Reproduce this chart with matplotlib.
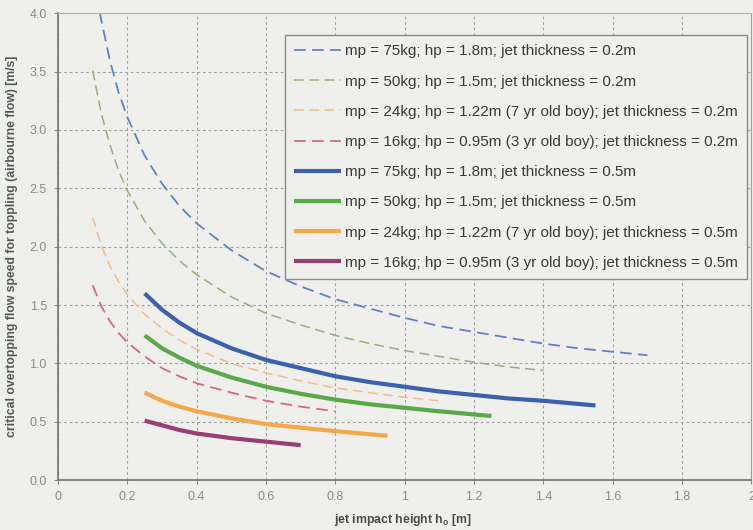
import numpy as np
import matplotlib.pyplot as plt

plt.rcParams['font.family'] = ['Liberation Sans', 'DejaVu Sans']

# jet thickness = 0.2m (dashed)
h_75_thin = [0.12, 0.15, 0.175, 0.2, 0.25, 0.3, 0.35, 0.4, 0.5, 0.6, 0.7, 0.8, 0.9, 1.0, 1.1, 1.2, 1.3, 1.4, 1.5, 1.6, 1.7]
v_75_thin = [4.01, 3.59, 3.32, 3.11, 2.78, 2.54, 2.35, 2.20, 1.97, 1.79, 1.66, 1.55, 1.47, 1.39, 1.32, 1.27, 1.22, 1.17, 1.13, 1.10, 1.07]

h_50_thin = [0.1, 0.125, 0.15, 0.175, 0.2, 0.25, 0.3, 0.35, 0.4, 0.5, 0.6, 0.7, 0.8, 0.9, 1.0, 1.1, 1.2, 1.3, 1.4]
v_50_thin = [3.51, 3.14, 2.87, 2.65, 2.48, 2.22, 2.03, 1.88, 1.76, 1.57, 1.43, 1.33, 1.24, 1.17, 1.11, 1.06, 1.01, 0.97, 0.94]

h_24_thin = [0.1, 0.125, 0.15, 0.175, 0.2, 0.25, 0.3, 0.35, 0.4, 0.5, 0.6, 0.7, 0.8, 0.9, 1.0, 1.1]
v_24_thin = [2.25, 2.01, 1.83, 1.70, 1.59, 1.42, 1.30, 1.20, 1.12, 1.00, 0.92, 0.85, 0.79, 0.75, 0.71, 0.68]

h_16_thin = [0.1, 0.125, 0.15, 0.175, 0.2, 0.25, 0.3, 0.35, 0.4, 0.5, 0.6, 0.7, 0.8]
v_16_thin = [1.67, 1.49, 1.36, 1.26, 1.18, 1.06, 0.96, 0.89, 0.83, 0.75, 0.68, 0.63, 0.59]

# jet thickness = 0.5m (solid)
h_75_thick = [0.25, 0.3, 0.35, 0.4, 0.5, 0.6, 0.7, 0.8, 0.9, 1.0, 1.1, 1.2, 1.3, 1.4, 1.55]
v_75_thick = [1.60, 1.46, 1.35, 1.26, 1.13, 1.03, 0.96, 0.89, 0.84, 0.80, 0.76, 0.73, 0.70, 0.68, 0.64]

h_50_thick = [0.25, 0.3, 0.35, 0.4, 0.5, 0.6, 0.7, 0.8, 0.9, 1.0, 1.1, 1.25]
v_50_thick = [1.24, 1.13, 1.05, 0.98, 0.88, 0.80, 0.74, 0.69, 0.65, 0.62, 0.59, 0.55]

h_24_thick = [0.25, 0.3, 0.35, 0.4, 0.5, 0.6, 0.7, 0.8, 0.95]
v_24_thick = [0.75, 0.68, 0.63, 0.59, 0.53, 0.48, 0.45, 0.42, 0.38]

h_16_thick = [0.25, 0.3, 0.35, 0.4, 0.5, 0.6, 0.7]
v_16_thick = [0.51, 0.47, 0.43, 0.40, 0.36, 0.33, 0.30]

labels = [
    'mp = 75kg; hp = 1.8m; jet thickness = 0.2m',
    'mp = 50kg; hp = 1.5m; jet thickness = 0.2m',
    'mp = 24kg; hp = 1.22m (7 yr old boy); jet thickness = 0.2m',
    'mp = 16kg; hp = 0.95m (3 yr old boy); jet thickness = 0.2m',
    'mp = 75kg; hp = 1.8m; jet thickness = 0.5m',
    'mp = 50kg; hp = 1.5m; jet thickness = 0.5m',
    'mp = 24kg; hp = 1.22m (7 yr old boy); jet thickness = 0.5m',
    'mp = 16kg; hp = 0.95m (3 yr old boy); jet thickness = 0.5m',
]

x_ticks = [0, 0.2, 0.4, 0.6, 0.8, 1, 1.2, 1.4, 1.6, 1.8, 2]
x_ticklabels = ['0', '0.2', '0.4', '0.6', '0.8', '1', '1.2', '1.4', '1.6', '1.8', '2']
y_ticks = [0.0, 0.5, 1.0, 1.5, 2.0, 2.5, 3.0, 3.5, 4.0]

bg = '#efefec'
fig = plt.figure(figsize=(7.53, 5.30), dpi=100, facecolor=bg)
ax = fig.add_axes([0.077, 0.094, 0.921, 0.881], facecolor=bg)

series = [
    (h_75_thin, v_75_thin, '#5b84cc', '--', 1.3),
    (h_50_thin, v_50_thin, '#93b27a', '--', 1.1),
    (h_24_thin, v_24_thin, '#f5bd86', '--', 1.1),
    (h_16_thin, v_16_thin, '#d9677f', '--', 1.3),
    (h_75_thick, v_75_thick, '#3c5fae', '-', 3.0),
    (h_50_thick, v_50_thick, '#5aa84a', '-', 3.0),
    (h_24_thick, v_24_thick, '#f4a84a', '-', 3.0),
    (h_16_thick, v_16_thick, '#9a3d72', '-', 3.0),
]
for (h, v, c, ls, lw), lab in zip(series, labels):
    if ls == '--':
        ax.plot(h, v, color=c, lw=lw, dashes=(6.5, 3.5), label=lab, solid_capstyle='butt')
    else:
        ax.plot(h, v, color=c, lw=lw, ls=ls, label=lab, solid_capstyle='butt')

ax.set_xlim(0, 2)
ax.set_ylim(0, 4)
ax.set_xticks(x_ticks)
ax.set_xticklabels(x_ticklabels)
ax.set_yticks(y_ticks)
ax.set_yticklabels([f'{t:.1f}' for t in y_ticks])
ax.grid(True, color='#a0a0a0', lw=0.8, ls=(0, (2.5, 2.5)))
ax.set_axisbelow(True)
ax.tick_params(colors='#8a8a8a', labelsize=9, length=3, width=0.8, pad=5)

for side in ['left', 'bottom']:
    ax.spines[side].set_color('#7a7a7a')
    ax.spines[side].set_linewidth(1.3)
ax.spines['top'].set_color('#c9a9a6')
ax.spines['right'].set_color('#a0a0a0')

ax.set_xlabel('jet impact height h$_\\mathregular{o}$ [m]', fontsize=8.8, fontweight='bold',
              color='#4a4a4a')
ax.xaxis.set_label_coords(0.497, -0.068)
ax.set_ylabel('critical overtopping flow speed for toppling (airbourne flow) [m/s]', fontsize=8.8,
              fontweight='bold', color='#4f5a4f')
ax.yaxis.set_label_coords(-0.057, 0.5)

leg = ax.legend(loc='upper left', bbox_to_anchor=(0.327, 0.953), borderaxespad=0,
                fontsize=11, handlelength=3.1, labelspacing=1.06, handletextpad=0.25,
                fancybox=False, framealpha=1, facecolor=bg, edgecolor='#8a8a8a',
                borderpad=0.6)
leg.get_frame().set_linewidth(1.0)
for t in leg.get_texts():
    t.set_color('#3a3a3a')

fig.savefig('out.png', dpi=100, facecolor=bg)
